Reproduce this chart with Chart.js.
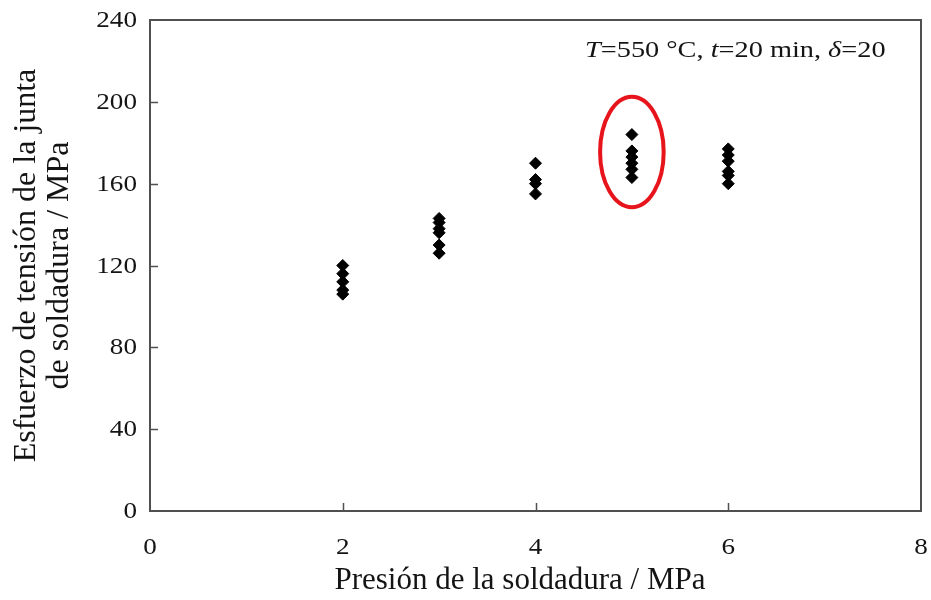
<!DOCTYPE html>
<html>
<head>
<meta charset="utf-8">
<script src="https://cdn.jsdelivr.net/npm/chart.js@4.4.1/dist/chart.umd.min.js"></script>
<style>
  html, body { margin: 0; padding: 0; background: #fff; }
  #wrap { width: 931px; height: 600px; }
</style>
</head>
<body>
<div id="wrap"><canvas id="weld"></canvas></div>
<script>
var INK = "#141414"
var AXIS = "#505050"
var RING = "#e8141c"
var SERIF = "'Liberation Serif', 'DejaVu Serif', serif"
var WIDEN = 1.18   // the original figure's numbers look horizontally stretched

// welding pressure (MPa) -> measured joint tensile stress (MPa)
var pressures = [2, 3, 4, 5, 6]
var stress2 = [120, 116, 112, 108, 106]
var stress3 = [143, 141, 138, 136, 130, 126]
var stress4 = [170, 162, 160, 155]
var stress5 = [184, 176, 173, 170, 167, 163]
var stress6 = [177, 174, 171, 166, 164, 160]
var groups = [stress2, stress3, stress4, stress5, stress6]

var xTicks = [0, 2, 4, 6, 8]
var yTicks = [0, 40, 80, 120, 160, 200, 240]

// highlighted group (circled in red)
var ringX = 5, ringY = 175.5, ringRx = 0.33, ringRy = 27

var points = []
groups.forEach(function (g, i) {
  g.forEach(function (v) { points.push({ x: pressures[i], y: v }) })
})

function wideText(c, str, x, y, align) {
  var w = c.measureText(str).width * WIDEN
  var left = align === 'right' ? x - w : align === 'center' ? x - w / 2 : x
  c.save()
  c.translate(left, y)
  c.scale(WIDEN, 1)
  c.textAlign = 'left'
  c.fillText(str, 0, 0)
  c.restore()
  return w
}

// frame, inward ticks and tick numbers
var framePlugin = {
  id: 'frame',
  afterDraw: function (chart) {
    var c = chart.ctx, a = chart.chartArea
    var xs = chart.scales.x, ys = chart.scales.y
    c.save()
    c.strokeStyle = AXIS
    c.lineWidth = 2
    c.strokeRect(a.left, a.top, a.right - a.left, a.bottom - a.top)
    c.beginPath()
    xs.ticks.forEach(function (t) {
      if (t.value === xs.min || t.value === xs.max) return
      var px = Math.round(xs.getPixelForValue(t.value)) + 0.5
      c.moveTo(px, a.bottom)
      c.lineTo(px, a.bottom - 8)
    })
    ys.ticks.forEach(function (t) {
      if (t.value === ys.min || t.value === ys.max) return
      var py = Math.round(ys.getPixelForValue(t.value)) + 0.5
      c.moveTo(a.left, py)
      c.lineTo(a.left + 8, py)
    })
    c.lineWidth = 1.5
    c.stroke()

    c.fillStyle = INK
    c.font = '23px ' + SERIF
    c.textBaseline = 'middle'
    ys.ticks.forEach(function (t) {
      wideText(c, String(t.value), a.left - 13, ys.getPixelForValue(t.value) + 1, 'right')
    })
    xs.ticks.forEach(function (t) {
      wideText(c, String(t.value), xs.getPixelForValue(t.value), a.bottom + 37, 'center')
    })
    c.restore()
  }
}

var ringPlugin = {
  id: 'ring',
  afterDatasetsDraw: function (chart) {
    var c = chart.ctx, xs = chart.scales.x, ys = chart.scales.y
    var cx = xs.getPixelForValue(ringX), cy = ys.getPixelForValue(ringY)
    var rx = xs.getPixelForValue(ringX + ringRx) - cx
    var ry = cy - ys.getPixelForValue(ringY + ringRy)
    c.save()
    c.strokeStyle = RING
    c.lineWidth = 4
    c.beginPath()
    c.ellipse(cx, cy, rx, ry, 0, 0, Math.PI * 2)
    c.stroke()
    c.restore()
  }
}

// condition note, top right
var notePlugin = {
  id: 'note',
  afterDraw: function (chart) {
    var c = chart.ctx
    var parts = [
      ['T', true], ['=550 °C, ', false], ['t', true],
      ['=20 min, ', false], ['δ', true], ['=20', false]
    ]
    var x = 585, y = 57
    c.save()
    c.fillStyle = INK
    c.textBaseline = 'alphabetic'
    parts.forEach(function (p) {
      c.font = (p[1] ? 'italic ' : '') + '24px ' + SERIF
      x += wideText(c, p[0], x, y, 'left')
    })
    c.restore()
  }
}

new Chart(document.getElementById('weld'), {
  type: 'scatter',
  data: {
    datasets: [{
      data: points,
      backgroundColor: '#000',
      borderColor: '#000',
      pointStyle: 'rectRot',
      pointRadius: 6,
      pointHoverRadius: 6
    }]
  },
  options: {
    responsive: true,
    maintainAspectRatio: false,
    animation: false,
    layout: { padding: { top: 20, right: 10, left: 0, bottom: 0 } },
    plugins: { legend: { display: false }, tooltip: { enabled: false } },
    scales: {
      x: {
        type: 'linear', min: 0, max: 8,
        afterBuildTicks: function (s) { s.ticks = xTicks.map(function (v) { return { value: v } }) },
        afterFit: function (s) { s.height = 89; s.paddingLeft = 0; s.paddingRight = 0 },
        grid: { display: false, drawTicks: false },
        border: { display: false },
        ticks: { display: false },
        title: {
          display: true, text: 'Presión de la soldadura / MPa\u2003', color: INK,
          font: { family: SERIF, size: 31, lineHeight: 1.2 }, padding: { top: 2, bottom: 1 }
        }
      },
      y: {
        type: 'linear', min: 0, max: 240,
        afterBuildTicks: function (s) { s.ticks = yTicks.map(function (v) { return { value: v } }) },
        afterFit: function (s) { s.width = 150; s.paddingTop = 0; s.paddingBottom = 0 },
        grid: { display: false, drawTicks: false },
        border: { display: false },
        ticks: { display: false },
        title: {
          display: true,
          text: ['Esfuerzo de tensión de la junta', 'de soldadura / MPa'],
          color: INK,
          font: { family: SERIF, size: 32, lineHeight: 1.03 },
          padding: { top: 10, bottom: 0 }
        }
      }
    }
  },
  plugins: [framePlugin, ringPlugin, notePlugin]
})
</script>
</body>
</html>
